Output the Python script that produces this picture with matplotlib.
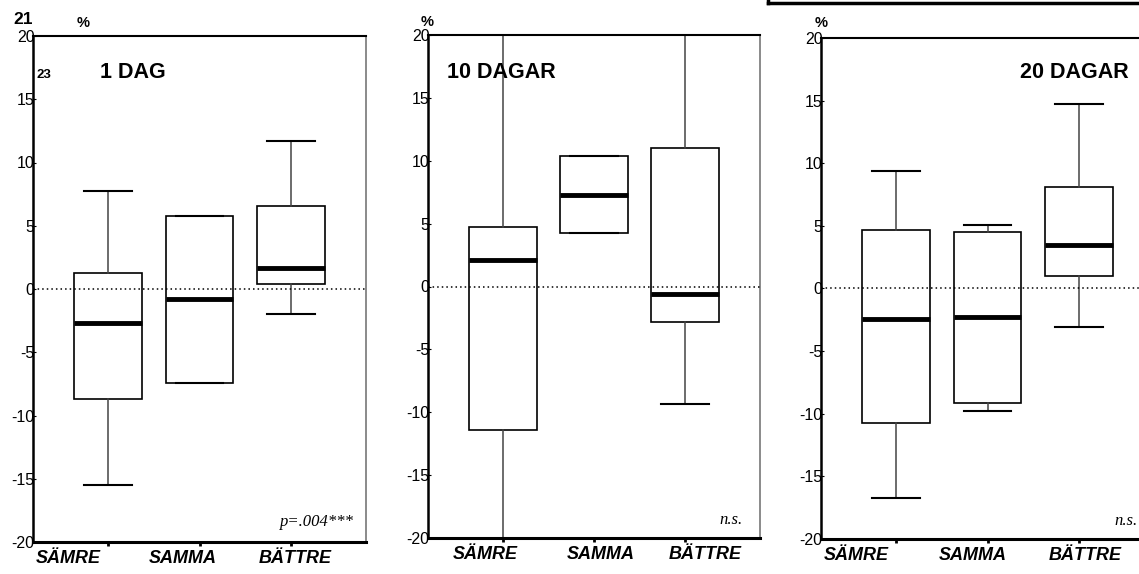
import matplotlib
matplotlib.use("Agg")
import matplotlib.pyplot as plt
from matplotlib.lines import Line2D

plt.rcParams["font.family"] = ["Liberation Sans", "DejaVu Sans"]

W, H = 1139, 574

categories = ["SÄMRE", "SAMMA", "BÄTTRE"]
panel_titles = ["1 DAG", "10 DAGAR", "20 DAGAR"]
panel_notes = ["p=.004***", "n.s.", "n.s."]
y_ticks = [20, 15, 10, 5, 0, -5, -10, -15, -20]

# box statistics per panel, one value per category (in %)
whislo = [[-15.5, -7.45, -1.95], [-23.0, 4.26, -9.33], [-16.7, -9.8, -3.1]]
q1 = [[-8.7, -7.45, 0.4], [-11.4, 4.26, -2.86], [-10.7, -9.15, 1.0]]
med = [[-2.7, -0.8, 1.68], [2.07, 7.3, -0.56], [-2.42, -2.3, 3.5]]
q3 = [[1.26, 5.74, 6.58], [4.74, 10.35, 11.0], [4.67, 4.54, 8.1]]
whishi = [[7.74, 5.74, 11.7], [23.0, 10.35, 23.0], [9.35, 5.05, 14.75]]

# layout (pixels, measured from top-left of the image)
axes_px = [(33, 36, 366, 542), (428, 35, 760, 538), (821, 38, 1154, 539)]
label_x = [[0.57, 1.82, 3.05], [0.81, 2.07, 3.22], [0.57, 1.84, 3.07]]
title_px = [(100, 73, "left"), (447, 73, "left"), (1129, 73, "right")]
note_px = [(354, 522), (743, 520), (1138, 521)]
pct_px = [(83, 23), (427, 22), (821, 23)]


def fx(x):
    return x / W


def fy(y):
    return 1 - y / H


fig = plt.figure(figsize=(W / 100, H / 100), dpi=100)

for i in range(3):
    l, t, r, b = axes_px[i]
    ax = fig.add_axes([fx(l), fy(b), (r - l) / W, (b - t) / H])
    stats = []
    for j in range(3):
        stats.append({"med": med[i][j], "q1": q1[i][j], "q3": q3[i][j],
                      "whislo": whislo[i][j], "whishi": whishi[i][j],
                      "fliers": []})
    ax.bxp(stats, positions=[1, 2, 3], widths=0.74, showfliers=False,
           patch_artist=True,
           boxprops=dict(facecolor="white", edgecolor="black", linewidth=1.2),
           medianprops=dict(color="black", linewidth=3.5, zorder=4),
           whiskerprops=dict(color="#444444", linewidth=1.1),
           capprops=dict(color="black", linewidth=1.5),
           capwidths=0.52)
    ax.axhline(0, color="black", linestyle=(0, (1, 2)), linewidth=1.1, zorder=3)
    ax.set_xlim(0.18, 3.82)
    ax.set_ylim(-20, 20)
    ax.set_yticks(y_ticks)
    ax.set_yticklabels([str(v) for v in y_ticks], fontsize=11.5)
    ax.tick_params(axis="y", length=2, direction="in", pad=-1)
    ax.set_xticks([1, 2, 3])
    ax.set_xticklabels(["", "", ""])
    ax.tick_params(axis="x", length=3, width=2, direction="out")
    for name, sp in ax.spines.items():
        sp.set_color("black")
        sp.set_linewidth(1.5)
    ax.spines["right"].set_color("#777777")
    ax.spines["right"].set_linewidth(1.2)
    ax.spines["bottom"].set_linewidth(2.2)
    ax.spines["left"].set_linewidth(1.8)
    for j, cat in enumerate(categories):
        ax.text(label_x[i][j], -21.3, cat, ha="center", va="center",
                fontsize=13, fontweight="bold", fontstyle="italic",
                transform=ax.transData, clip_on=False)
    tx, ty, ha = title_px[i]
    fig.text(fx(tx), fy(ty), panel_titles[i], ha=ha, va="center",
             fontsize=15.5, fontweight="bold")
    nx, ny = note_px[i]
    fig.text(fx(nx), fy(ny), panel_notes[i], ha="right", va="center",
             fontsize=12, fontstyle="italic",
             family=["Liberation Serif", "DejaVu Serif"])
    px, py = pct_px[i]
    fig.text(fx(px), fy(py), "%", ha="center", va="center",
             fontsize=10.5, fontweight="bold")

# page fragments from the scanned source
fig.text(fx(23), fy(20), "21", ha="center", va="center",
         fontsize=12.5, fontweight="bold")
fig.text(fx(44), fy(75), "23", ha="center", va="center",
         fontsize=9.5, fontweight="bold")
fig.add_artist(Line2D([fx(768), fx(1139)], [fy(3), fy(3)],
                      color="black", linewidth=2.5))
fig.add_artist(Line2D([fx(768), fx(768)], [fy(3), fy(-2)],
                      color="black", linewidth=2.5))

fig.savefig("out.png", dpi=100)
